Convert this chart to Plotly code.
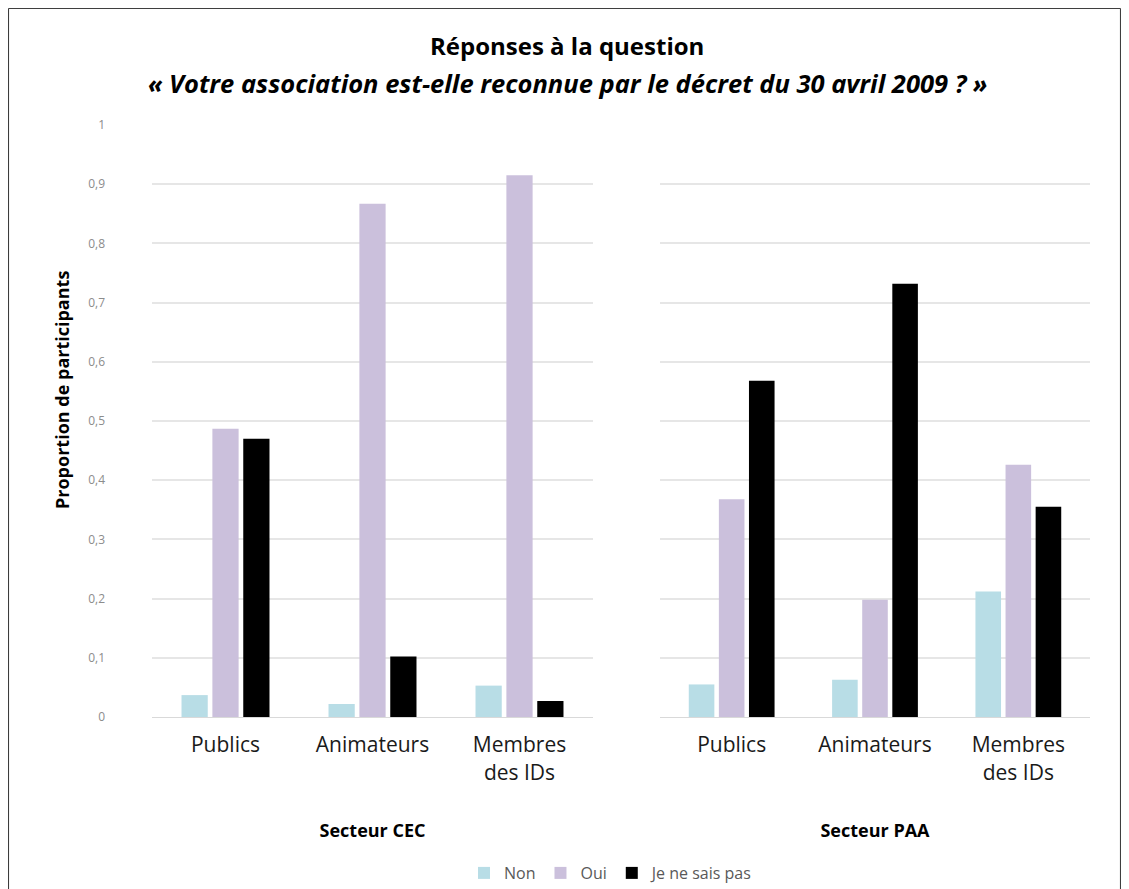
import plotly.graph_objects as go

categories = ["Publics", "Animateurs", "Membres<br>des IDs"]
series_names = ["Non", "Oui", "Je ne sais pas"]
colors = ["#b8dde6", "#cbc0dc", "#000000"]

cec_non = [0.037, 0.022, 0.053]
cec_oui = [0.487, 0.867, 0.915]
cec_nsp = [0.470, 0.102, 0.027]

paa_non = [0.055, 0.063, 0.212]
paa_oui = [0.368, 0.198, 0.426]
paa_nsp = [0.568, 0.732, 0.355]

y_ticks = [0, 0.1, 0.2, 0.3, 0.4, 0.5, 0.6, 0.7, 0.8, 0.9, 1]
sector_titles = ["Secteur CEC", "Secteur PAA"]
title_line1 = "Réponses à la question"
title_line2 = "« Votre association est-elle reconnue par le décret du 30 avril 2009 ? »"
y_title = "Proportion de participants"

FONT = "Open Sans"
OFF = 8                      # page body margin
W, H = 1129 - 2 * OFF, 889 - OFF


def fx(p):
    return (p - OFF) / W


def fy(p):
    return 1 - (p - OFF) / H


fig = go.Figure()
for i, (name, col) in enumerate(zip(series_names, colors)):
    left_vals = [cec_non, cec_oui, cec_nsp][i]
    right_vals = [paa_non, paa_oui, paa_nsp][i]
    fig.add_trace(go.Bar(x=categories, y=left_vals, name=name, marker_color=col,
                         marker_line_width=0, legendgroup=name, showlegend=True,
                         xaxis="x", yaxis="y"))
    fig.add_trace(go.Bar(x=categories, y=right_vals, name=name, marker_color=col,
                         marker_line_width=0, legendgroup=name, showlegend=False,
                         xaxis="x2", yaxis="y2"))

ydom = [fy(717), fy(125)]

common_x = dict(
    showgrid=False, showline=True, linecolor="#d9d9d9", linewidth=1,
    ticks="", tickfont=dict(family=FONT, size=21, color="#1a1a1a"),
    ticklabelstandoff=9,
    title_font=dict(family=FONT, size=18, color="#000000"),
    title_standoff=39, fixedrange=True,
)
common_y = dict(
    range=[0, 1], tickvals=y_ticks, showgrid=True, gridcolor="#e6e6e6", gridwidth=1.5,
    zeroline=False, showline=False, ticks="", fixedrange=True,
)

fig.update_layout(
    width=W, height=H,
    margin=dict(l=0, r=0, t=0, b=0, autoexpand=False),
    paper_bgcolor="white", plot_bgcolor="white",
    separators=", ",
    barmode="group", bargap=0.37, bargroupgap=0.15,
    font=dict(family=FONT),
    xaxis=dict(domain=[fx(152), fx(593)], anchor="y",
               title=dict(text="<b>" + sector_titles[0] + "</b>"), **common_x),
    xaxis2=dict(domain=[fx(660), fx(1090)], anchor="y2",
                title=dict(text="<b>" + sector_titles[1] + "</b>"), **common_x),
    yaxis=dict(domain=ydom, anchor="x",
               tickfont=dict(family=FONT, size=12, color="#8c8c8c"),
               ticklabelstandoff=46, **common_y),
    yaxis2=dict(domain=ydom, anchor="x2", showticklabels=False, **common_y),
    legend=dict(orientation="h", x=fx(611), xanchor="center", y=fy(873), yanchor="middle",
                font=dict(family=FONT, size=16, color="#595959"),
                itemwidth=30, traceorder="normal", bgcolor="rgba(0,0,0,0)"),
    annotations=[
        dict(text="<b>" + title_line1 + "</b>", xref="paper", yref="paper",
             x=fx(567), y=fy(46), xanchor="center", yanchor="middle",
             showarrow=False, font=dict(family=FONT, size=24, color="#000000")),
        dict(text="<b><i>" + title_line2 + "</i></b>", xref="paper", yref="paper",
             x=fx(567), y=fy(83), xanchor="center", yanchor="middle",
             showarrow=False, font=dict(family=FONT, size=25.5, color="#000000")),
        dict(text="<b>" + y_title + "</b>", xref="paper", yref="paper",
             x=fx(62), y=fy(390), xanchor="center", yanchor="middle", textangle=-90,
             showarrow=False, font=dict(family=FONT, size=18, color="#000000")),
    ],
    shapes=[
        dict(type="line", xref="paper", yref="paper", x0=0.0005, x1=0.0005, y0=0, y1=0.9995,
             line=dict(color="#333333", width=1)),
        dict(type="line", xref="paper", yref="paper", x0=0.0005, x1=0.9995, y0=0.9995, y1=0.9995,
             line=dict(color="#333333", width=1)),
        dict(type="line", xref="paper", yref="paper", x0=0.9995, x1=0.9995, y0=0, y1=0.9995,
             line=dict(color="#333333", width=1)),
    ],
)

fig.write_html("out.html")
